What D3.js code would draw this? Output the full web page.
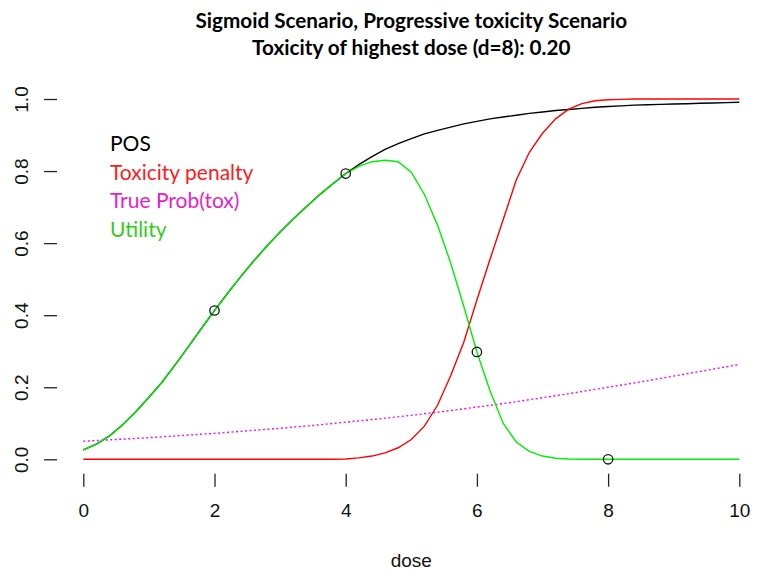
<!DOCTYPE html>
<html>
<head>
<meta charset="utf-8">
<script src="https://cdn.jsdelivr.net/npm/d3@7"></script>
<style>
  body { margin: 0; background: #fff; }
</style>
</head>
<body>
<script>
// curve values, dose grid step 0.2
var dose = [0, 0.2, 0.4, 0.6, 0.8, 1, 1.2, 1.4, 1.6, 1.8, 2, 2.2, 2.4, 2.6, 2.8, 3, 3.2, 3.4, 3.6, 3.8,
    4, 4.2, 4.4, 4.6, 4.8, 5, 5.2, 5.4, 5.6, 5.8, 6, 6.2, 6.4, 6.6, 6.8, 7, 7.2, 7.4, 7.6, 7.8,
    8, 8.2, 8.4, 8.6, 8.8, 9, 9.2, 9.4, 9.6, 9.8, 10];

var pos = [0.026, 0.042, 0.065, 0.096, 0.132, 0.172, 0.214, 0.262, 0.312, 0.363, 0.413, 0.461, 0.507, 0.551, 0.592, 0.631, 0.667, 0.701, 0.734, 0.764,
    0.793, 0.818, 0.840, 0.860, 0.876, 0.890, 0.903, 0.913, 0.922, 0.931, 0.938, 0.945, 0.950, 0.955, 0.960, 0.964, 0.968, 0.971, 0.974, 0.977,
    0.979, 0.981, 0.983, 0.984, 0.985, 0.986, 0.987, 0.988, 0.989, 0.990, 0.991];

var penalty = [0, 0, 0, 0, 0, 0, 0, 0, 0, 0, 0, 0, 0, 0, 0, 0, 0, 0, 0, 0,
    0.001, 0.004, 0.009, 0.018, 0.032, 0.055, 0.092, 0.150, 0.232, 0.325, 0.442, 0.555, 0.665, 0.775, 0.852, 0.905, 0.945, 0.972, 0.987, 0.995,
    0.998, 0.999, 1, 1, 1, 1, 1, 1, 1, 1, 1];

var utility = [0.026, 0.042, 0.065, 0.096, 0.132, 0.172, 0.214, 0.262, 0.312, 0.363, 0.413, 0.461, 0.507, 0.551, 0.592, 0.631, 0.667, 0.701, 0.734, 0.764,
    0.793, 0.813, 0.826, 0.830, 0.826, 0.797, 0.735, 0.650, 0.545, 0.425, 0.298, 0.190, 0.100, 0.048, 0.022, 0.009, 0.003, 0.001, 0, 0,
    0, 0, 0, 0, 0, 0, 0, 0, 0, 0, 0];

// true prob(tox), step 0.5
var toxDose = [0, 0.5, 1, 1.5, 2, 2.5, 3, 3.5, 4, 4.5, 5, 5.5, 6, 6.5, 7, 7.5, 8, 8.5, 9, 9.5, 10];
var toxProb = [0.050, 0.055, 0.060, 0.066, 0.072, 0.079, 0.086, 0.094, 0.103, 0.112, 0.122, 0.133, 0.145, 0.157, 0.171, 0.185, 0.200, 0.215, 0.231, 0.247, 0.263];

// observed doses
var obsDose = [2, 4, 6, 8];
var obsUtility = [0.413, 0.793, 0.298, 0.0];

var xTicks = [0, 2, 4, 6, 8, 10];
var yTicks = [0, 0.2, 0.4, 0.6, 0.8, 1.0];

var legendLabels = ["POS", "Toxicity penalty", "True Prob(tox)", "Utility"];
var legendColors = ["#000000", "#ff1a1a", "#e61ec8", "#33cc1a"];

var titleLines = ["Sigmoid Scenario, Progressive toxicity Scenario", "Toxicity of highest dose (d=8): 0.20"];

var width = 757, height = 571;
var axisFont = "'Liberation Sans', Arial, sans-serif";

var svg = d3.select("body").append("svg")
    .attr("width", width)
    .attr("height", height)
    .style("font-family", axisFont);

// X scale
var xScale = d3.scaleLinear()
    .domain([0, 10])
    .range([83.3, 739.3]);

// Y scale
var yScale = d3.scaleLinear()
    .domain([0, 1])
    .range([459.3, 99]);

var left = xScale(-0.4), right = xScale(10.4), top = yScale(1.04), bottom = yScale(-0.04);

// box
svg.append("rect")
    .attr("x", left)
    .attr("y", top)
    .attr("width", right - left)
    .attr("height", bottom - top)
    .attr("fill", "none")
    .attr("stroke", "#222")
    .attr("stroke-width", 1.3);

// x axis
var gx = svg.append("g")
    .attr("transform", "translate(0," + bottom + ")")
    .call(d3.axisBottom(xScale).tickValues(xTicks).tickFormat(d3.format("d")).tickSize(13).tickSizeOuter(0).tickPadding(17));
gx.select(".domain").remove();
gx.selectAll("line").attr("stroke", "#222").attr("stroke-width", 1.3);
gx.selectAll("text").attr("font-size", 19).attr("fill", "#111").style("font-family", axisFont);

// y axis
var gy = svg.append("g")
    .attr("transform", "translate(" + left + ",0)")
    .call(d3.axisLeft(yScale).tickValues(yTicks).tickFormat(d3.format(".1f")).tickSize(13).tickSizeOuter(0));
gy.select(".domain").remove();
gy.selectAll("line").attr("stroke", "#222").attr("stroke-width", 1.3);
gy.selectAll("text")
    .attr("transform", "rotate(-90)")
    .attr("x", 0)
    .attr("y", -29.5)
    .attr("dy", 0)
    .attr("text-anchor", "middle")
    .attr("font-size", 19)
    .attr("fill", "#111")
    .style("font-family", axisFont);

// axis label
svg.append("text")
    .attr("x", (left + right) / 2)
    .attr("y", 567)
    .attr("text-anchor", "middle")
    .attr("font-size", 19)
    .attr("fill", "#111")
    .text("dose");

// title
svg.selectAll(".title")
    .data(titleLines)
    .enter().append("text")
    .attr("class", "title")
    .attr("x", (left + right) / 2)
    .attr("y", function (d, i) { return 28 + i * 27; })
    .attr("text-anchor", "middle")
    .attr("font-size", 20.7)
    .attr("font-weight", "bold")
    .style("font-family", "Lato, 'Open Sans', sans-serif")
    .text(function (d) { return d; });

var plot = svg.append("g");

function addLine(xs, ys, color, dash) {
    plot.append("path")
        .datum(ys)
        .attr("fill", "none")
        .attr("stroke", color)
        .attr("stroke-width", 1.4)
        .attr("stroke-dasharray", dash)
        .attr("d", d3.line()
            .x(function (d, i) { return xScale(xs[i]) })
            .y(function (d) { return yScale(d) })
        );
}

addLine(dose, pos, "#000000", null);
addLine(dose, penalty, "#ff0000", null);
addLine(toxDose, toxProb, "#ff00ff", "2,2.5");
addLine(dose, utility, "#00ee00", null);

// observed points
plot.selectAll(".obs")
    .data(obsDose)
    .enter().append("circle")
    .attr("class", "obs")
    .attr("cx", function (d) { return xScale(d) })
    .attr("cy", function (d, i) { return yScale(obsUtility[i]) })
    .attr("r", 4.7)
    .attr("fill", "none")
    .attr("stroke", "#111")
    .attr("stroke-width", 1.3);

// legend
svg.selectAll(".legend")
    .data(legendLabels)
    .enter().append("text")
    .attr("class", "legend")
    .attr("x", 110)
    .attr("y", function (d, i) { return 151 + i * 28.6; })
    .attr("font-size", 21)
    .attr("fill", function (d, i) { return legendColors[i]; })
    .style("font-family", "Lato, 'Open Sans', sans-serif")
    .text(function (d) { return d; });
</script>
</body>
</html>
